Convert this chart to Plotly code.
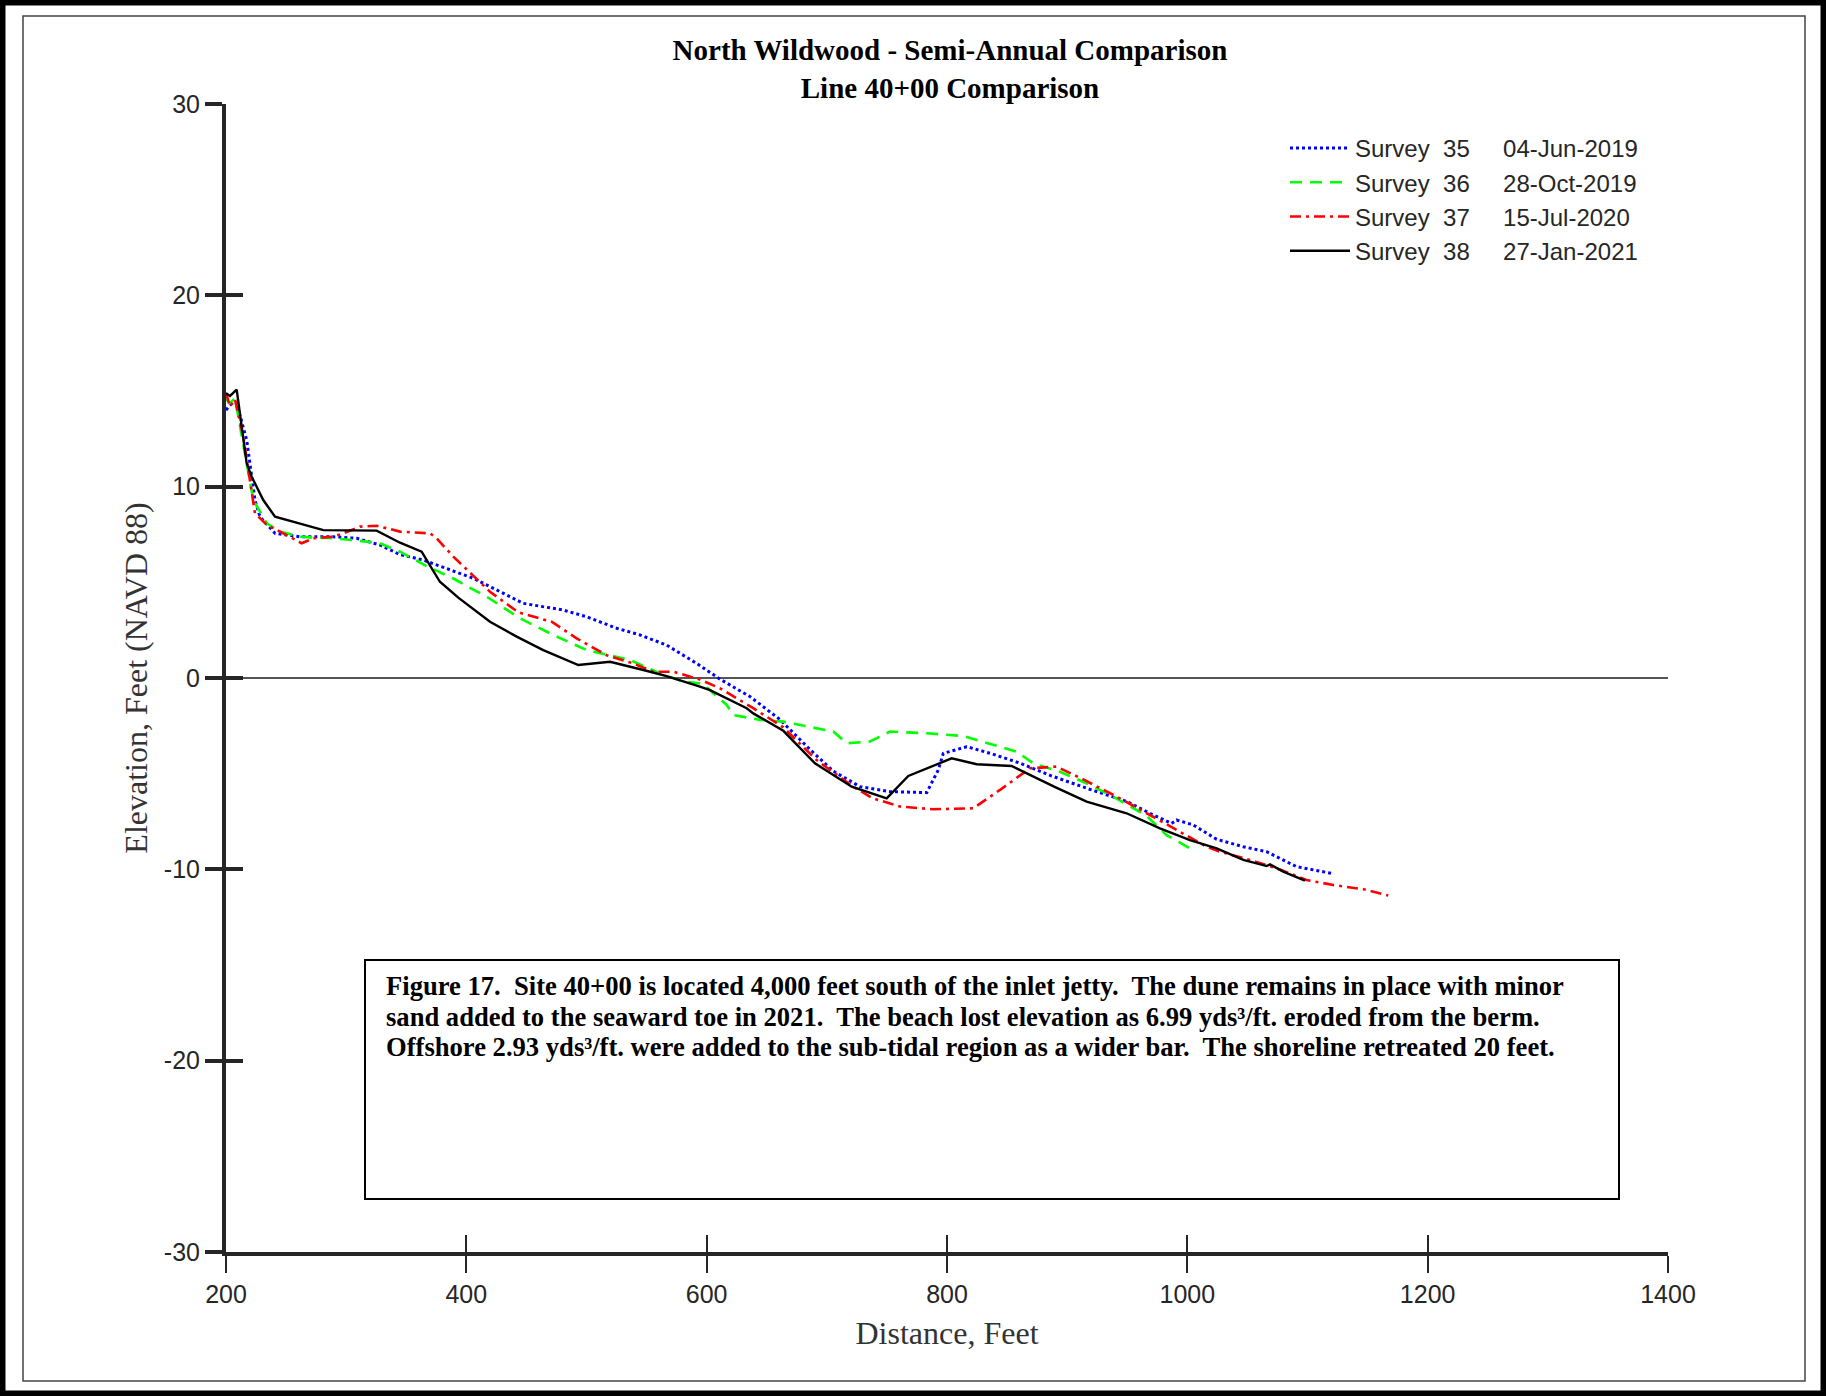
import plotly.graph_objects as go

# ---------------- data ----------------
s35_x = [200, 204.7, 208.9, 217.2, 224.1, 228.3, 240.8, 261.6, 289.3, 308.8, 328.1, 344.8, 364, 383.5,
         405.8, 428.2, 447.4, 480.7, 500.1, 525.1, 544.5, 566.7, 591.7, 611.1, 636, 661, 686, 705.4,
         727.6, 752.6, 783.1, 792.7, 796.9, 816.4, 836.2, 861.2, 886.2, 918, 949.5, 968.9, 986.9, 991,
         1004.9, 1024.4, 1046.6, 1066, 1079.8, 1090.9, 1120]
s35_y = [14.0, 14.36, 14.36, 12.44, 9.3, 8.43, 7.56, 7.38, 7.38, 7.3, 6.95, 6.45, 6.17, 5.73,
         5.21, 4.51, 3.9, 3.55, 3.2, 2.6, 2.25, 1.72, 0.76, -0.06, -0.97, -2.17, -3.74, -4.87,
         -5.68, -5.94, -5.99, -4.81, -3.94, -3.59, -3.94, -4.46, -5.1, -5.8, -6.45, -7.07, -7.6, -7.42,
         -7.68, -8.43, -8.82, -9.08, -9.51, -9.86, -10.21]

s36_x = [200, 203.3, 207.5, 222.7, 233.9, 245, 261.6, 289.3, 305.9, 328.1, 344.8, 367, 389.2, 400.3,
         416.9, 444.6, 472.3, 500.1, 536.2, 561.2, 580.5, 597.2, 605.5, 616.6, 622.1, 644.4, 663.8,
         677.7, 705.4, 716.5, 735.9, 752.6, 783.1, 813.6, 844.1, 858, 871.8, 894, 916, 941.2, 966,
         982.7, 1002.2]
s36_y = [14.6, 14.36, 14.62, 9.3, 8.08, 7.65, 7.38, 7.3, 7.21, 7.04, 6.6, 5.85, 5.2, 4.8,
         4.25, 3.12, 2.25, 1.46, 0.94, 0.24, -0.19, -0.3, -0.8, -1.4, -1.93, -2.19, -2.28,
         -2.45, -2.8, -3.41, -3.32, -2.8, -2.89, -3.03, -3.59, -3.85, -4.46, -4.9, -5.5, -6.3, -7.2,
         -8.21, -8.9]

s37_x = [200, 203.3, 207.5, 214.4, 224.1, 233.9, 245, 263, 272.7, 289.3, 297.6, 311.5, 325.4, 344.8,
         369.8, 375.3, 389.2, 403, 419.7, 443.3, 471, 491.8, 516.8, 538.9, 555.6, 572.2, 594.4, 611.1,
         638.8, 663.8, 691.5, 721.8, 738.4, 760.9, 788.6, 821.9, 844.1, 869, 891.3, 913.4, 941.2,
         968.9, 993.9, 1016.1, 1027.3, 1052.1, 1074.4, 1099.3, 1121.5, 1146.5, 1167.2]
s37_y = [14.9, 14.18, 14.57, 12.6, 8.61, 8.0, 7.65, 7.04, 7.3, 7.39, 7.56, 7.91, 7.96, 7.65,
         7.56, 7.3, 6.34, 5.5, 4.51, 3.43, 2.94, 2.07, 1.19, 0.76, 0.33, 0.33, -0.08, -0.54,
         -1.58, -2.58, -4.29, -5.68, -6.29, -6.72, -6.86, -6.81, -5.85, -4.72, -4.63, -5.3, -6.2,
         -7.16, -8.03, -8.82, -9.08, -9.51, -9.95, -10.56, -10.82, -11.04, -11.37]

s38_x = [200, 203.3, 208.9, 217.2, 221.4, 231, 240.8, 281, 325.4, 344.8, 362.8, 378, 393.3, 419.7,
         441.9, 464, 493.2, 519.6, 547.3, 566.7, 594.4, 602.8, 633.3, 638.8, 663.8, 690.1, 720.7,
         749.8, 767.8, 803.9, 824.7, 853.8, 890, 916.2, 949.5, 977.2, 1002.2, 1024.4, 1046.6, 1066,
         1068.8, 1079.8, 1097.9]
s38_y = [14.88, 14.74, 15.07, 11.22, 10.52, 9.3, 8.43, 7.73, 7.7, 7.07, 6.6, 5.03, 4.2, 2.94,
         2.16, 1.46, 0.68, 0.85, 0.42, 0.1, -0.45, -0.63, -1.58, -1.85, -2.76, -4.46, -5.68,
         -6.29, -5.12, -4.2, -4.51, -4.6, -5.7, -6.46, -7.07, -7.86, -8.47, -8.9, -9.51, -9.83,
         -9.74, -10.12, -10.59]

series_names = ["Survey\u00a0\u00a035\u00a0\u00a0\u00a0\u00a0\u00a004-Jun-2019",
                "Survey\u00a0\u00a036\u00a0\u00a0\u00a0\u00a0\u00a028-Oct-2019",
                "Survey\u00a0\u00a037\u00a0\u00a0\u00a0\u00a0\u00a015-Jul-2020",
                "Survey\u00a0\u00a038\u00a0\u00a0\u00a0\u00a0\u00a027-Jan-2021"]

x_ticks = [200, 400, 600, 800, 1000, 1200, 1400]
y_ticks = [-30, -20, -10, 0, 10, 20, 30]

title_lines = ["North Wildwood - Semi-Annual Comparison", "Line 40+00 Comparison"]
note_lines = [
    "Figure 17.\u00a0 Site 40+00 is located 4,000 feet south of the inlet jetty.\u00a0 The dune remains in place with minor",
    "sand added to the seaward toe in 2021.\u00a0 The beach lost elevation as 6.99 yds\u00b3/ft. eroded from the berm.",
    "Offshore 2.93 yds\u00b3/ft. were added to the sub-tidal region as a wider bar.\u00a0 The shoreline retreated 20 feet.",
]

# ---------------- layout geometry ----------------
W, H = 1826, 1396
L, R, T, B = 226, 158, 104, 144
PW, PH = W - L - R, H - T - B

def px(xp):
    return (xp - L) / PW

def py(yp):
    return (H - B - yp) / PH

SANS = "Liberation Sans, Arial, sans-serif"
SERIF = "Liberation Serif, Times New Roman, serif"
AXC = "#262626"

fig = go.Figure()
styles = [
    dict(color="#0000FF", width=3, dash="dot"),
    dict(color="#00FF00", width=2.6, dash="12px,8px"),
    dict(color="#FF0000", width=2.6, dash="11px,5px,3px,5px"),
    dict(color="#000000", width=2.4, dash="solid"),
]
for xs, ys, nm, st in zip([s35_x, s36_x, s37_x, s38_x], [s35_y, s36_y, s37_y, s38_y], series_names, styles):
    fig.add_trace(go.Scatter(x=xs, y=ys, mode="lines", name=nm, line=st))

# empty trace to activate the overlay axes (inside ticks)
fig.add_trace(go.Scatter(x=[], y=[], xaxis="x2", yaxis="y2", showlegend=False, hoverinfo="skip"))

fig.update_layout(
    width=W, height=H,
    margin=dict(l=L, r=R, t=T, b=B, autoexpand=False),
    paper_bgcolor="white", plot_bgcolor="white",
    showlegend=True,
    legend=dict(x=px(1285), y=py(126), xanchor="left", yanchor="top",
                font=dict(family=SANS, size=24, color=AXC), bgcolor="rgba(0,0,0,0)",
                itemwidth=60, tracegroupgap=0),
    title=dict(text="<br>".join("<b>%s</b>" % t for t in title_lines),
               x=px(950), xref="paper", xanchor="center",
               y=1 - 60 / H, yref="container", yanchor="top",
               font=dict(family=SERIF, size=29, color="black")),
    xaxis=dict(range=[200, 1400], tickvals=x_ticks, ticktext=[str(v) for v in x_ticks],
               showline=True, linecolor=AXC, linewidth=4, ticks="outside", ticklen=17,
               tickwidth=2, tickcolor=AXC, showgrid=False, zeroline=False,
               tickfont=dict(family=SANS, size=25, color=AXC),
               title=dict(text="Distance, Feet", font=dict(family=SERIF, size=32, color="#333333"), standoff=16)),
    yaxis=dict(range=[-30, 30], tickvals=y_ticks, ticktext=[str(v) for v in y_ticks],
               showline=True, linecolor=AXC, linewidth=4, ticks="outside", ticklen=17,
               tickwidth=4, tickcolor=AXC, showgrid=False,
               zeroline=True, zerolinecolor="#555555", zerolinewidth=1.5,
               tickfont=dict(family=SANS, size=25, color=AXC),
               title=dict(text="Elevation, Feet (NAVD 88)", font=dict(family=SERIF, size=32, color="#333333"), standoff=8)),
    xaxis2=dict(range=[200, 1400], tickvals=x_ticks, overlaying="x", anchor="y2", side="bottom",
                ticks="inside", ticklen=17, tickwidth=2, tickcolor=AXC, showticklabels=False,
                showgrid=False, zeroline=False, showline=False),
    yaxis2=dict(range=[-30, 30], tickvals=y_ticks, overlaying="y", anchor="x2", side="left",
                ticks="inside", ticklen=17, tickwidth=4, tickcolor=AXC, showticklabels=False,
                showgrid=False, zeroline=False, showline=False),
)

# frames around the figure
fig.add_shape(type="rect", xref="paper", yref="paper", x0=px(0), x1=px(W), y0=py(H), y1=py(0),
              line=dict(color="black", width=11), layer="above")
fig.add_shape(type="rect", xref="paper", yref="paper", x0=px(23), x1=px(1805), y0=py(1381), y1=py(16),
              line=dict(color="#444444", width=1.5), layer="above")

# note box
fig.add_shape(type="rect", xref="paper", yref="paper", x0=px(365), x1=px(1619), y0=py(1199), y1=py(960),
              line=dict(color="black", width=2), fillcolor="white", layer="above")
note_centers = [986, 1017, 1047]
for line_text, yc in zip(note_lines, note_centers):
    fig.add_annotation(xref="paper", yref="paper", x=px(384), y=py(yc), xanchor="left", yanchor="middle",
                       align="left", showarrow=False, text="<b>%s</b>" % line_text,
                       font=dict(family=SERIF, size=26.6, color="black"))

fig.write_html("out.html")
